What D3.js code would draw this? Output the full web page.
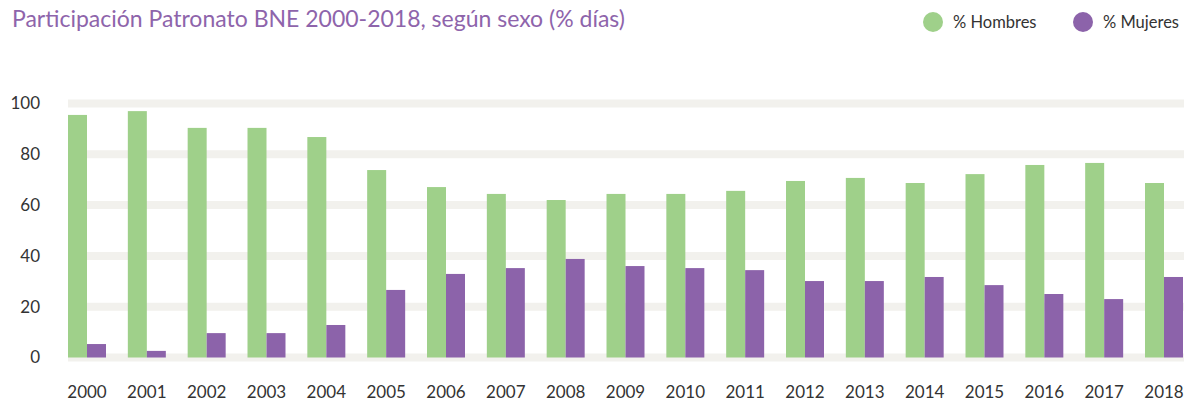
<!DOCTYPE html>
<html>
<head>
<meta charset="utf-8">
<script src="https://cdn.jsdelivr.net/npm/d3@7"></script>
<style>
  body { margin: 0; background: #fff; }
  svg { display: block; font-family: Lato, "Open Sans", sans-serif; }
</style>
</head>
<body>
<div id="chart"></div>
<script>
const years = ["2000","2001","2002","2003","2004","2005","2006","2007","2008","2009",
               "2010","2011","2012","2013","2014","2015","2016","2017","2018"];
const hombres = [95.5, 97.0, 90.4, 90.4, 86.8, 73.8, 67.1, 64.4, 62.0, 64.4,
                 64.4, 65.6, 69.5, 70.7, 68.7, 72.2, 75.8, 76.6, 68.7];
const mujeres = [5.3, 2.6, 9.6, 9.6, 12.8, 26.6, 32.9, 35.2, 38.8, 36.0,
                 35.2, 34.4, 30.1, 30.1, 31.7, 28.5, 25.0, 23.0, 31.7];
const seriesNames = ["% Hombres", "% Mujeres"];
const yTicks = [0, 20, 40, 60, 80, 100];

const colors = ["#9fd08a", "#8c63aa"];
const width = 1184, height = 404;

const svg = d3.select("#chart").append("svg")
    .attr("width", width)
    .attr("height", height);

// title
svg.append("text")
    .attr("x", 12).attr("y", 27)
    .attr("fill", "#8e64ab")
    .style("font-size", "23px")
    .text("Participación Patronato BNE 2000-2018, según sexo (% días)");

// scales
const x = d3.scaleBand().domain(years).range([68, 1183]).paddingInner(0.365).paddingOuter(0);
const xs = d3.scaleBand().domain([0, 1]).range([0, x.bandwidth()]);
const y = d3.scaleLinear().domain([0, 100]).range([357.5, 103.5]);

// grid bands
svg.append("g").selectAll("line").data(yTicks).join("line")
    .attr("x1", 68).attr("x2", width)
    .attr("y1", d => y(d)).attr("y2", d => y(d))
    .attr("stroke", "#f2f1ed").attr("stroke-width", 8);

// y axis
const yAxis = svg.append("g")
    .attr("transform", "translate(40,0)")
    .call(d3.axisLeft(y).tickValues(yTicks).tickSize(0).tickPadding(0));
yAxis.select(".domain").remove();
yAxis.selectAll("text").attr("fill", "#333").style("font-size", "17px").style("font-family", "Lato, sans-serif");

// x axis
const xAxis = svg.append("g")
    .attr("transform", "translate(0,378)")
    .call(d3.axisBottom(x).tickSize(0).tickPadding(8));
xAxis.select(".domain").remove();
xAxis.selectAll("text").attr("fill", "#333").style("font-size", "17px").style("font-family", "Lato, sans-serif");

// bars
const rows = years.map((yr, i) => ({ year: yr, values: [hombres[i], mujeres[i]] }));
svg.append("g").selectAll("g").data(rows).join("g")
    .attr("transform", d => `translate(${x(d.year)},0)`)
  .selectAll("rect").data(d => d.values.map((v, k) => ({ k, v }))).join("rect")
    .attr("x", d => xs(d.k))
    .attr("width", xs.bandwidth())
    .attr("y", d => y(d.v))
    .attr("height", d => y(0) - y(d.v))
    .attr("fill", d => colors[d.k]);

// legend
const legendX = [933, 1083];
const lg = svg.append("g").selectAll("g").data(seriesNames).join("g")
    .attr("transform", (d, i) => `translate(${legendX[i]},22)`);
lg.append("circle").attr("r", 10).attr("fill", (d, i) => colors[i]);
lg.append("text").attr("x", 20).attr("y", 6)
    .attr("fill", "#333").style("font-size", "16.5px")
    .text(d => d);
</script>
</body>
</html>
